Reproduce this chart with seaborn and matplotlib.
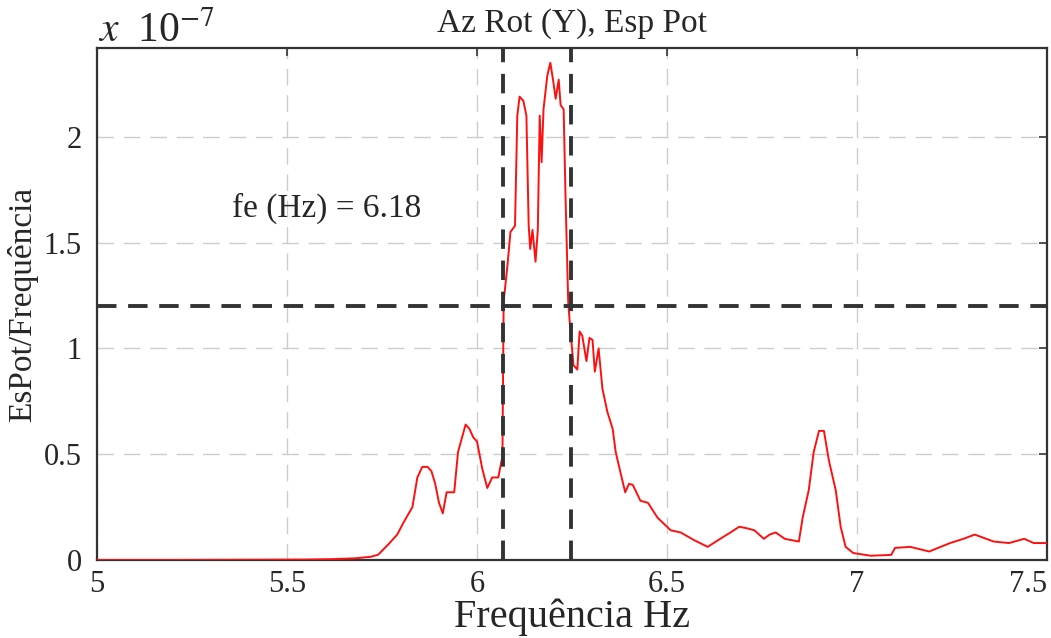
import numpy as np
import pandas as pd
import seaborn as sns
import matplotlib.pyplot as plt

# espectro (freq em Hz, valor em 1e-7)
freq = [5.00, 5.20, 5.40, 5.55, 5.62, 5.68, 5.72, 5.74, 5.77, 5.79, 5.806, 5.83, 5.843,
        5.856, 5.87, 5.88, 5.89, 5.90, 5.91, 5.92, 5.94, 5.95, 5.97, 5.98, 5.99, 6.00,
        6.014, 6.027, 6.04, 6.056, 6.067, 6.07, 6.08, 6.088, 6.10, 6.106, 6.112, 6.122,
        6.13, 6.136, 6.14, 6.146, 6.154, 6.16, 6.165, 6.17, 6.175, 6.185, 6.193, 6.20,
        6.207, 6.215, 6.22, 6.228, 6.233, 6.24, 6.245, 6.254, 6.264, 6.27, 6.277, 6.288,
        6.296, 6.304, 6.31, 6.32, 6.33, 6.343, 6.357, 6.365, 6.378, 6.39, 6.40, 6.41,
        6.43, 6.45, 6.475, 6.51, 6.536, 6.57, 6.607, 6.64, 6.667, 6.69, 6.71, 6.73,
        6.755, 6.77, 6.786, 6.81, 6.847, 6.857, 6.873, 6.886, 6.90, 6.913, 6.926, 6.944,
        6.957, 6.97, 6.99, 7.036, 7.09, 7.10, 7.14, 7.19, 7.245, 7.28, 7.31, 7.34, 7.36,
        7.40, 7.44, 7.465, 7.50]
espot = [0.000, 0.000, 0.001, 0.002, 0.004, 0.008, 0.015, 0.025, 0.08, 0.12, 0.175, 0.25,
         0.39, 0.44, 0.44, 0.42, 0.36, 0.27, 0.22, 0.32, 0.32, 0.51, 0.64, 0.62, 0.58,
         0.56, 0.43, 0.34, 0.39, 0.39, 0.49, 1.22, 1.39, 1.55, 1.58, 2.10, 2.19, 2.17,
         2.10, 1.58, 1.47, 1.56, 1.41, 1.56, 2.10, 1.88, 2.13, 2.29, 2.35, 2.27, 2.18,
         2.27, 2.15, 2.13, 1.71, 1.22, 1.10, 0.92, 0.90, 1.08, 1.06, 0.94, 1.05, 1.04,
         0.89, 1.00, 0.81, 0.70, 0.62, 0.51, 0.41, 0.32, 0.36, 0.355, 0.28, 0.27, 0.20,
         0.14, 0.13, 0.095, 0.062, 0.10, 0.13, 0.157, 0.15, 0.14, 0.10, 0.12, 0.13, 0.10,
         0.087, 0.20, 0.33, 0.51, 0.61, 0.61, 0.47, 0.33, 0.157, 0.062, 0.033, 0.02,
         0.024, 0.057, 0.062, 0.04, 0.08, 0.10, 0.12, 0.10, 0.087, 0.08, 0.10, 0.08, 0.08]

x_ticks = [5, 5.5, 6, 6.5, 7, 7.5]
x_labels = ['5', '5.5', '6', '6.5', '7', '7.5']
y_ticks = [0, 0.5, 1, 1.5, 2]
y_labels = ['0', '0.5', '1', '1.5', '2']

f1, f2 = 6.068, 6.247   # limites da banda
nivel = 1.2             # nível de corte
fe = 6.18

df = pd.DataFrame({'freq': freq, 'espot': espot})

sns.set_style('white')
plt.rcParams['font.family'] = ['Liberation Serif', 'DejaVu Serif']
plt.rcParams['mathtext.fontset'] = 'stix'

fig = plt.figure(figsize=(10.51, 6.38), dpi=100)
ax = fig.add_axes([0.0923, 0.1223, 0.9039, 0.8025])

ax.grid(True, color='#cccccc', linestyle=(0, (12, 7)), linewidth=1)
sns.lineplot(data=df, x='freq', y='espot', color='#ff1010', linewidth=1.4, ax=ax, zorder=3)

ax.axhline(nivel, color='#333333', linestyle=(0, (5, 3)), linewidth=2.8, zorder=4)
ax.axvline(f1, color='#333333', linestyle=(0, (5, 3)), linewidth=2.8, zorder=4)
ax.axvline(f2, color='#333333', linestyle=(0, (5, 3)), linewidth=2.8, zorder=4)

ax.set_xlim(5, 7.5)
ax.set_ylim(0, 2.42)
ax.set_xticks(x_ticks)
ax.set_xticklabels(x_labels)
ax.set_yticks(y_ticks)
ax.set_yticklabels(y_labels)
ax.tick_params(direction='in', length=6, width=1.2, color='#333333', labelsize=22,
               top=True, right=True, pad=7)
ax.tick_params(axis='y', pad=11)
ax.get_xticklabels()[-1].set_horizontalalignment('right')

for s in ax.spines.values():
    s.set_color('#333333')
    s.set_linewidth(1.6)

ax.set_title('Az Rot (Y), Esp Pot', fontsize=24, pad=12)
ax.set_xlabel('Frequência Hz', fontsize=29, labelpad=0)
ax.set_ylabel('EsPot/Frequência', fontsize=24, labelpad=4)
ax.text(5.355, 1.66, f'fe (Hz) = {fe}', fontsize=24, va='center')
fig.text(0.093, 0.934, r'$x\ \ \mathregular{10}^{-7}$', fontsize=30, va='baseline')

fig.savefig('out.png', dpi=100)
